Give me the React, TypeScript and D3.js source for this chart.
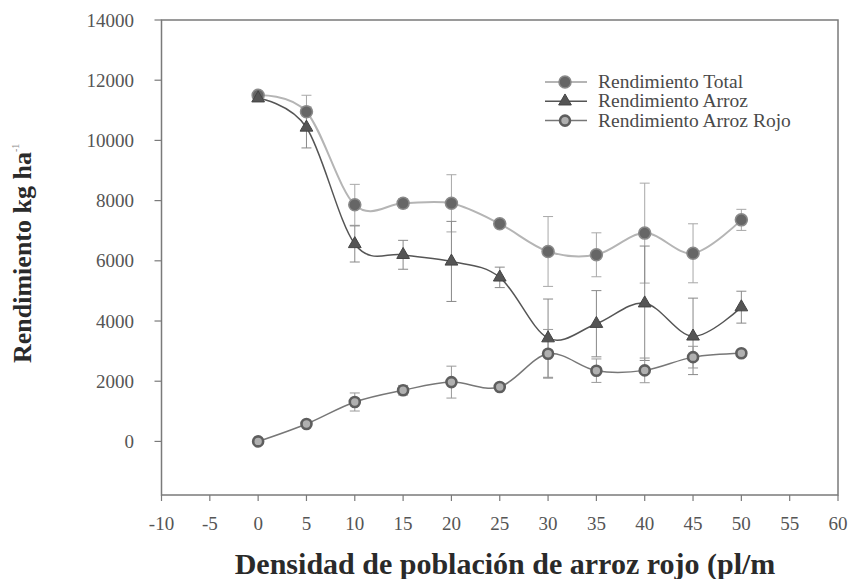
import React from "react";
import * as d3 from "d3";

// Red-rice density (plants/m²)
const densities = [0, 5, 10, 15, 20, 25, 30, 35, 40, 45, 50];

// Yield series (kg/ha) with their standard errors
const totalYield = [11500, 10950, 7860, 7910, 7910, 7230, 6310, 6200, 6920, 6250, 7360];
const totalErr = [100, 550, 680, 150, 950, 100, 1160, 730, 1660, 980, 350];

const riceYield = [11400, 10430, 6560, 6200, 5980, 5450, 3430, 3910, 4590, 3490, 4460];
const riceErr = [100, 680, 600, 480, 1330, 340, 1300, 1100, 1900, 1270, 530];

const redRiceYield = [0, 580, 1310, 1700, 1970, 1810, 2910, 2350, 2360, 2800, 2930];
const redRiceErr = [0, 50, 300, 160, 530, 100, 810, 390, 410, 360, 100];

const xTicks = [-10, -5, 0, 5, 10, 15, 20, 25, 30, 35, 40, 45, 50, 55, 60];
const yTicks = [0, 2000, 4000, 6000, 8000, 10000, 12000, 14000];

const seriesNames = ["Rendimiento Total", "Rendimiento Arroz", "Rendimiento Arroz Rojo"];

const W = 848;
const H = 579;
const left = 161.5;
const right = 838;
const top = 20;
const bottom = 495;

const FONT = "'Liberation Serif', 'Times New Roman', serif";

export default function App() {
  const x = d3.scaleLinear().domain([-10, 60]).range([left, right]);
  const y = d3.scaleLinear().domain([-1780, 14000]).range([bottom, top]);

  const line = d3
    .line<[number, number]>()
    .x((d) => x(d[0]))
    .y((d) => y(d[1]))
    .curve(d3.curveCardinal.tension(0));

  const pts = (vals: number[]) => densities.map((d, i) => [d, vals[i]] as [number, number]);

  const tri = d3.symbol().type(d3.symbolTriangle).size(70)() as string;

  const errBars = (vals: number[], errs: number[], color: string, key: string) =>
    densities.map((d, i) => {
      if (errs[i] <= 0) return null;
      const cx = x(d);
      const y1 = y(vals[i] + errs[i]);
      const y2 = y(vals[i] - errs[i]);
      return (
        <g key={key + i} stroke={color} strokeWidth={1}>
          <line x1={cx} x2={cx} y1={y1} y2={y2} />
          <line x1={cx - 5} x2={cx + 5} y1={y1} y2={y1} />
          <line x1={cx - 5} x2={cx + 5} y1={y2} y2={y2} />
        </g>
      );
    });

  const totalMarker = (cx: number, cy: number, k: string) => (
    <circle key={k} cx={cx} cy={cy} r={6} fill="#666" stroke="#8a8a8a" strokeWidth={1.5} />
  );
  const riceMarker = (cx: number, cy: number, k: string) => (
    <path key={k} d={tri} transform={`translate(${cx},${cy})`} fill="#555" stroke="#444" strokeWidth={1} />
  );
  const redMarker = (cx: number, cy: number, k: string) => (
    <circle key={k} cx={cx} cy={cy} r={5} fill="#b0b0b0" stroke="#5e5e5e" strokeWidth={2.6} />
  );

  const legendRows = [
    { name: seriesNames[0], stroke: "#b5b5b5", width: 2, marker: totalMarker },
    { name: seriesNames[1], stroke: "#555", width: 1.5, marker: riceMarker },
    { name: seriesNames[2], stroke: "#777", width: 1.5, marker: redMarker },
  ];

  return (
    <svg width={W} height={H} style={{ position: "absolute", left: 0, top: 0, background: "#fff" }}>
      {/* frame */}
      <rect x={left} y={top} width={right - left} height={bottom - top} fill="none" stroke="#7a7a7a" strokeWidth={1.5} />

      {/* y axis ticks and labels */}
      {yTicks.map((t) => (
        <g key={"y" + t}>
          <line x1={left - 7} x2={left} y1={y(t)} y2={y(t)} stroke="#7a7a7a" strokeWidth={1.2} />
          <text x={134} y={y(t) + 6.5} textAnchor="end" fontFamily={FONT} fontSize={19} fill="#555">
            {t}
          </text>
        </g>
      ))}

      {/* x axis ticks and labels */}
      {xTicks.map((t) => (
        <g key={"x" + t}>
          <line x1={x(t)} x2={x(t)} y1={bottom} y2={bottom + 6} stroke="#7a7a7a" strokeWidth={1.2} />
          <text x={x(t)} y={bottom + 35} textAnchor="middle" fontFamily={FONT} fontSize={19} fill="#555">
            {t}
          </text>
        </g>
      ))}

      {/* error bars */}
      {errBars(totalYield, totalErr, "#a8a8a8", "te")}
      {errBars(riceYield, riceErr, "#888", "re")}
      {errBars(redRiceYield, redRiceErr, "#999", "rre")}

      {/* series lines */}
      <path d={line(pts(totalYield)) as string} fill="none" stroke="#b5b5b5" strokeWidth={2} />
      <path d={line(pts(riceYield)) as string} fill="none" stroke="#555" strokeWidth={1.5} />
      <path d={line(pts(redRiceYield)) as string} fill="none" stroke="#777" strokeWidth={1.5} />

      {/* markers */}
      {densities.map((d, i) => totalMarker(x(d), y(totalYield[i]), "tm" + i))}
      {densities.map((d, i) => riceMarker(x(d), y(riceYield[i]), "rm" + i))}
      {densities.map((d, i) => redMarker(x(d), y(redRiceYield[i]), "rrm" + i))}

      {/* legend */}
      {legendRows.map((r, i) => {
        const ly = 82 + i * 19.3;
        return (
          <g key={"lg" + i}>
            <line x1={545} x2={587} y1={ly} y2={ly} stroke={r.stroke} strokeWidth={r.width} />
            {r.marker(565, ly, "lm" + i)}
            <text x={598} y={ly + 6} fontFamily={FONT} fontSize={19.5} fill="#4a4a4a">
              {r.name}
            </text>
          </g>
        );
      })}

      {/* axis titles */}
      <text
        transform="translate(31,363) rotate(-90)"
        fontFamily={FONT}
        fontSize={26}
        fontWeight="bold"
        fill="#2a2a2a"
      >
        Rendimiento kg ha
        <tspan fontSize={10} dy={-12} fontWeight="normal" fill="#888">-1</tspan>
      </text>
      <text x={505} y={574} textAnchor="middle" fontFamily={FONT} fontSize={30} fontWeight="bold" fill="#2a2a2a">
        Densidad de población de arroz rojo (pl/m
      </text>
    </svg>
  );
}
